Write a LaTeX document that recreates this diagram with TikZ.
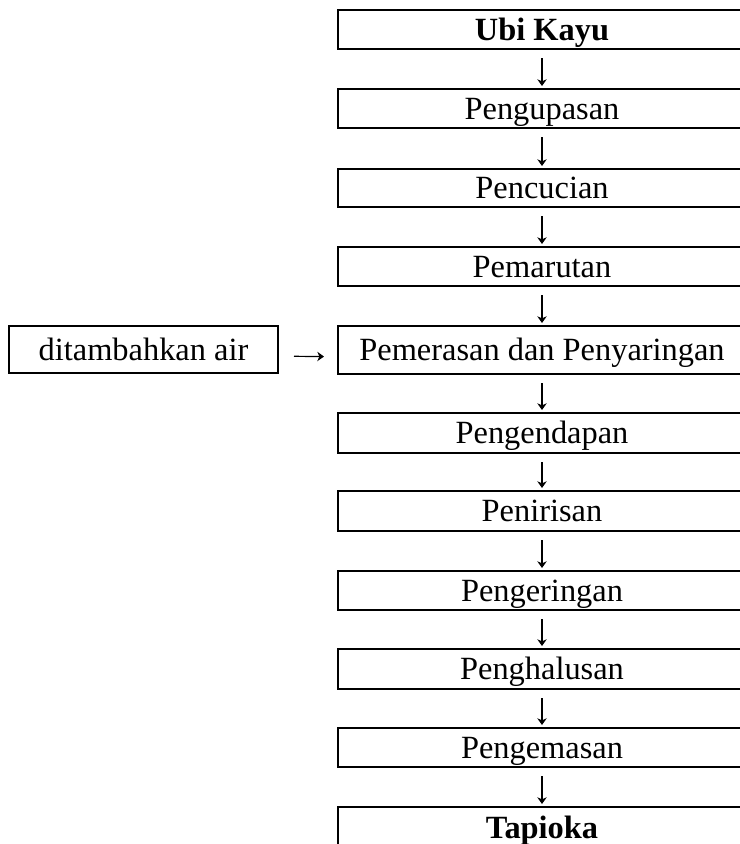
\documentclass[tikz,border=0pt]{standalone}
\usepackage{fontspec}
\setmainfont{Liberation Serif}
\usetikzlibrary{arrows.meta}

\begin{document}
\begin{tikzpicture}[x=0.75pt,y=-0.75pt]
    \useasboundingbox (0,0) rectangle (740,844);
    \begin{scope}[line width=2.2pt,font=\fontsize{24.3}{29}\selectfont,
        box/.style={draw,rectangle,outer sep=0pt,inner sep=0pt,minimum width=306pt,
            text height=16pt,text depth=0pt,anchor=north west},
        flow/.style={line width=0.9pt,-{Stealth[length=5pt,width=7pt,inset=1.5pt]}}]

    \foreach \name/\y/\h/\txt in {ubi/10/39/{\textbf{Ubi Kayu}},kupas/89/39/Pengupasan,
        cuci/169/38/Pencucian,parut/247/39/Pemarutan,peras/326/48/Pemerasan dan Penyaringan,
        endap/413/40/Pengendapan,tiris/491/40/Penirisan,kering/571/39/Pengeringan,
        halus/649/40/Penghalusan,kemas/728/39/Pengemasan,tapioka/807/41/{\textbf{Tapioka}}}
        \node [box,minimum height=\h*0.75pt] (\name) at (338,\y) {\txt};

    \foreach \a/\b in {ubi/kupas,kupas/cuci,cuci/parut,parut/peras,peras/endap,
        endap/tiris,tiris/kering,kering/halus,halus/kemas,kemas/tapioka}
        \draw [flow,shorten <=6.75pt,shorten >=2.25pt] (\a.south) -- (\b.north);

    \node [box,anchor=center,minimum width=269*0.75pt,minimum height=47*0.75pt] (air) at (143.5,349.5) {ditambahkan air};
    \draw [flow,shorten <=12pt,shorten >=10.5pt] ([yshift=-5pt]air.east) -- ([yshift=-5pt]peras.west);
    \end{scope}
\end{tikzpicture}
\end{document}
